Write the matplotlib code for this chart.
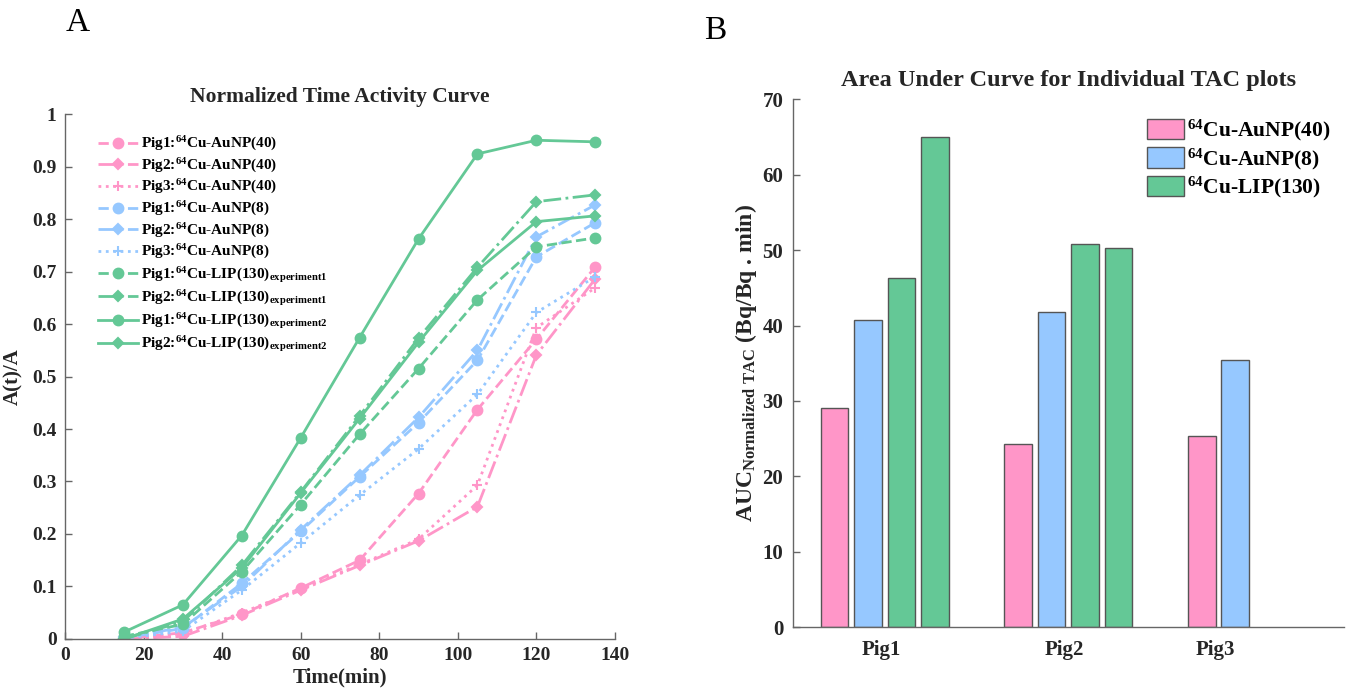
import numpy as np
import matplotlib
matplotlib.use('Agg')
import matplotlib.pyplot as plt

plt.rcParams.update({
    'font.family': ['Liberation Serif', 'DejaVu Serif'],
    'font.weight': 'bold',
    'mathtext.fontset': 'custom',
    'mathtext.rm': 'Liberation Serif',
    'mathtext.bf': 'Liberation Serif:bold',
    'mathtext.it': 'Liberation Serif:italic',
})

# ---- data: normalized time activity curves (panel A)
time_min = [15, 30, 45, 60, 75, 90, 105, 120, 135]

aunp40_pig1 = [0.000, 0.012, 0.047, 0.097, 0.150, 0.277, 0.437, 0.571, 0.709]
aunp40_pig2 = [0.000, 0.005, 0.045, 0.093, 0.140, 0.187, 0.252, 0.541, 0.686]
aunp40_pig3 = [0.000, 0.010, 0.050, 0.095, 0.142, 0.190, 0.293, 0.593, 0.669]
aunp8_pig1 = [0.002, 0.020, 0.106, 0.205, 0.309, 0.412, 0.531, 0.728, 0.793]
aunp8_pig2 = [0.003, 0.022, 0.100, 0.208, 0.312, 0.422, 0.550, 0.766, 0.827]
aunp8_pig3 = [0.001, 0.015, 0.093, 0.183, 0.274, 0.362, 0.466, 0.622, 0.690]
lip_exp1_pig1 = [0.005, 0.028, 0.128, 0.256, 0.390, 0.515, 0.646, 0.747, 0.764]
lip_exp1_pig2 = [0.000, 0.033, 0.140, 0.280, 0.425, 0.573, 0.708, 0.833, 0.846]
lip_exp2_pig1 = [0.013, 0.065, 0.197, 0.383, 0.574, 0.762, 0.924, 0.950, 0.947]
lip_exp2_pig2 = [0.000, 0.038, 0.135, 0.278, 0.420, 0.565, 0.702, 0.795, 0.806]

# ---- data: area under curve (panel B)
pigs = ['Pig1', 'Pig2', 'Pig3']
auc_aunp40 = [29.1, 24.3, 25.3]
auc_aunp8 = [40.7, 41.8, 35.4]
auc_lip_exp1 = [46.3, 50.8, np.nan]
auc_lip_exp2 = [65.0, 50.3, np.nan]

pink = '#FF96C8'
blue = '#96C8FF'
green = '#64C896'
axis_col = '#666666'
text_col = '#262626'

fig = plt.figure(figsize=(13.53, 6.96), dpi=100)

# ================= panel A
ax1 = fig.add_axes([0.048, 0.0819, 0.4065, 0.7543])

series = [
    (aunp40_pig1, pink, '--', 'o', r'Pig1:$^{\mathbf{64}}$Cu-AuNP(40)'),
    (aunp40_pig2, pink, '-.', 'D', r'Pig2:$^{\mathbf{64}}$Cu-AuNP(40)'),
    (aunp40_pig3, pink, ':', '+', r'Pig3:$^{\mathbf{64}}$Cu-AuNP(40)'),
    (aunp8_pig1, blue, '--', 'o', r'Pig1:$^{\mathbf{64}}$Cu-AuNP(8)'),
    (aunp8_pig2, blue, '-.', 'D', r'Pig2:$^{\mathbf{64}}$Cu-AuNP(8)'),
    (aunp8_pig3, blue, ':', '+', r'Pig3:$^{\mathbf{64}}$Cu-AuNP(8)'),
    (lip_exp1_pig1, green, '--', 'o', r'Pig1:$^{\mathbf{64}}$Cu-LIP(130)$_{\mathbf{experiment1}}$'),
    (lip_exp1_pig2, green, '-.', 'D', r'Pig2:$^{\mathbf{64}}$Cu-LIP(130)$_{\mathbf{experiment1}}$'),
    (lip_exp2_pig1, green, '-', 'o', r'Pig1:$^{\mathbf{64}}$Cu-LIP(130)$_{\mathbf{experiment2}}$'),
    (lip_exp2_pig2, green, '-', 'D', r'Pig2:$^{\mathbf{64}}$Cu-LIP(130)$_{\mathbf{experiment2}}$'),
]
for vals, col, ls, mk, lab in series:
    ms = 5.5 if mk == 'D' else 7
    ax1.plot(time_min, vals, color=col, linestyle=ls, marker=mk, markersize=ms,
             markeredgewidth=1.5, linewidth=2, label=lab)

ax1.set_xlim(0, 140)
ax1.set_ylim(0, 1)
ax1.set_xticks(range(0, 141, 20))
ax1.set_yticks(np.arange(0, 1.01, 0.1))
ax1.set_yticklabels(['0', '0.1', '0.2', '0.3', '0.4', '0.5', '0.6', '0.7', '0.8', '0.9', '1'])
ax1.set_title('Normalized Time Activity Curve', fontsize=15.5, fontweight='bold',
              color=text_col, pad=9)
ax1.set_xlabel('Time(min)', fontsize=15, fontweight='bold', color=text_col, labelpad=2)
ax1.set_ylabel('A(t)/A', fontsize=15, fontweight='bold', color=text_col, labelpad=6)

ax1.legend(loc='upper left', bbox_to_anchor=(0.06, 0.96), frameon=False,
           fontsize=11, handlelength=2.6, handletextpad=0.2,
           labelspacing=0.22, borderpad=0, borderaxespad=0)

# ================= panel B
ax2 = fig.add_axes([0.586, 0.0991, 0.4072, 0.758])

group_x = np.arange(1, len(pigs) + 1)
bar_w = 0.15
step = 0.182
bar_sets = [
    (auc_aunp40, pink, -1.5, r'$^{\mathbf{64}}$Cu-AuNP(40)'),
    (auc_aunp8, blue, -0.5, r'$^{\mathbf{64}}$Cu-AuNP(8)'),
    (auc_lip_exp1, green, 0.5, r'$^{\mathbf{64}}$Cu-LIP(130)'),
    (auc_lip_exp2, green, 1.5, '_nolegend_'),
]
for vals, col, off, lab in bar_sets:
    ax2.bar(group_x + off * step, vals, width=bar_w, color=col,
            edgecolor='#555555', linewidth=1, label=lab)

ax2.set_xlim(0.5, 3.5)
ax2.set_ylim(0, 70)
ax2.set_yticks(range(0, 71, 10))
ax2.set_xticks([0.98, 1.98, 2.80])
ax2.set_xticklabels(pigs)
ax2.set_title('Area Under Curve for Individual TAC plots', fontsize=17.5,
              fontweight='bold', color=text_col, pad=10)
ax2.set_ylabel(r'AUC$_{\mathbf{Normalized\ TAC}}$ (Bq/Bq . min)', fontsize=17,
               fontweight='bold', color=text_col, labelpad=2)
ax2.legend(loc='upper right', bbox_to_anchor=(0.975, 0.965), frameon=False,
           fontsize=15.5, handlelength=1.75, handleheight=1.1,
           handletextpad=0.1, labelspacing=0.15, borderpad=0, borderaxespad=0)

# ================= common axis styling (box off, ticks inside)
for ax in (ax1, ax2):
    for s in ('top', 'right'):
        ax.spines[s].set_visible(False)
    for s in ('left', 'bottom'):
        ax.spines[s].set_color(axis_col)
        ax.spines[s].set_linewidth(1)
    ax.tick_params(direction='in', length=5, width=1, color=axis_col,
                   labelcolor=text_col)
ax1.tick_params(labelsize=14, pad=6)
ax2.tick_params(axis='y', labelsize=15, pad=7)
ax2.tick_params(axis='x', labelsize=15, length=0, pad=9)
for lab in ax1.get_xticklabels() + ax1.get_yticklabels() + \
        ax2.get_xticklabels() + ax2.get_yticklabels():
    lab.set_fontweight('bold')

# panel letters
fig.text(78 / 1353, 1 - 23 / 696, 'A', fontsize=24, fontweight='normal',
         ha='center', va='center', color='black')
fig.text(715 / 1353, 1 - 31 / 696, 'B', fontsize=24, fontweight='normal',
         ha='center', va='center', color='black')

fig.savefig('out.png', dpi=100)
